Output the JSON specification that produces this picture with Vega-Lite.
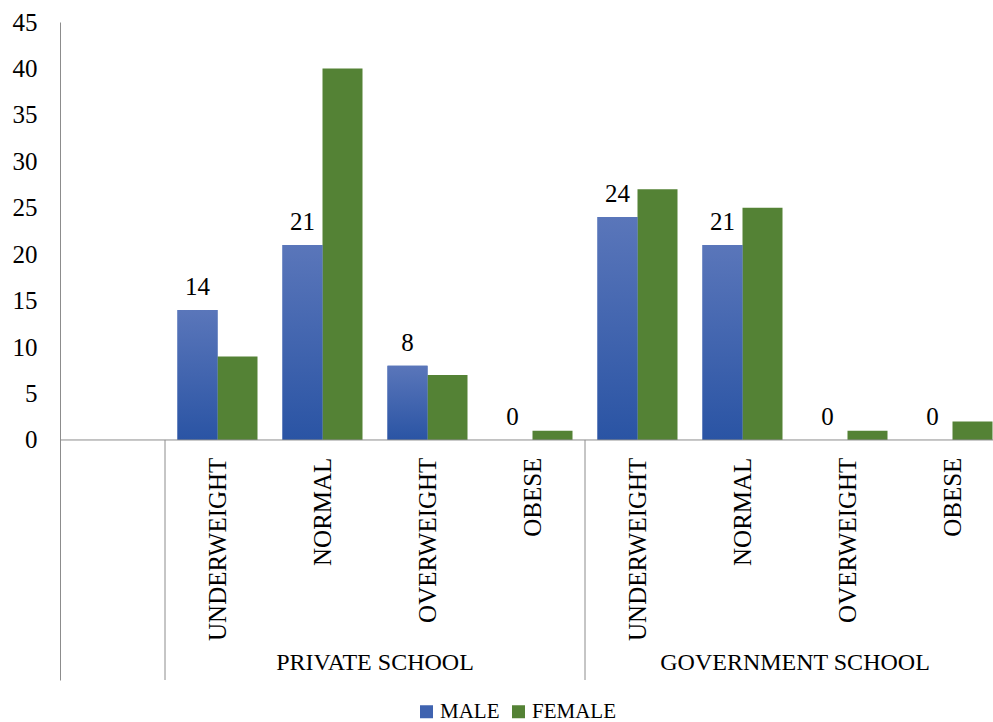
{
  "$schema": "https://vega.github.io/schema/vega-lite/v6.json",
  "width": 933,
  "height": 658,
  "autosize": {"type": "none"},
  "padding": {"left": 60, "top": 22, "right": 0, "bottom": 42},
  "background": "white",
  "config": {
    "view": {"stroke": null},
    "font": "Liberation Serif",
    "text": {"font": "Liberation Serif", "fontSize": 25, "color": "#000000"}
  },
  "datasets": {
    "bars": [
      {"key": "P-UNDERWEIGHT", "school": "PRIVATE SCHOOL", "status": "UNDERWEIGHT", "gender": "MALE", "value": 14},
      {"key": "P-UNDERWEIGHT", "school": "PRIVATE SCHOOL", "status": "UNDERWEIGHT", "gender": "FEMALE", "value": 9},
      {"key": "P-NORMAL", "school": "PRIVATE SCHOOL", "status": "NORMAL", "gender": "MALE", "value": 21},
      {"key": "P-NORMAL", "school": "PRIVATE SCHOOL", "status": "NORMAL", "gender": "FEMALE", "value": 40},
      {"key": "P-OVERWEIGHT", "school": "PRIVATE SCHOOL", "status": "OVERWEIGHT", "gender": "MALE", "value": 8},
      {"key": "P-OVERWEIGHT", "school": "PRIVATE SCHOOL", "status": "OVERWEIGHT", "gender": "FEMALE", "value": 7},
      {"key": "P-OBESE", "school": "PRIVATE SCHOOL", "status": "OBESE", "gender": "MALE", "value": 0},
      {"key": "P-OBESE", "school": "PRIVATE SCHOOL", "status": "OBESE", "gender": "FEMALE", "value": 1},
      {"key": "G-UNDERWEIGHT", "school": "GOVERNMENT SCHOOL", "status": "UNDERWEIGHT", "gender": "MALE", "value": 24},
      {"key": "G-UNDERWEIGHT", "school": "GOVERNMENT SCHOOL", "status": "UNDERWEIGHT", "gender": "FEMALE", "value": 27},
      {"key": "G-NORMAL", "school": "GOVERNMENT SCHOOL", "status": "NORMAL", "gender": "MALE", "value": 21},
      {"key": "G-NORMAL", "school": "GOVERNMENT SCHOOL", "status": "NORMAL", "gender": "FEMALE", "value": 25},
      {"key": "G-OVERWEIGHT", "school": "GOVERNMENT SCHOOL", "status": "OVERWEIGHT", "gender": "MALE", "value": 0},
      {"key": "G-OVERWEIGHT", "school": "GOVERNMENT SCHOOL", "status": "OVERWEIGHT", "gender": "FEMALE", "value": 1},
      {"key": "G-OBESE", "school": "GOVERNMENT SCHOOL", "status": "OBESE", "gender": "MALE", "value": 0},
      {"key": "G-OBESE", "school": "GOVERNMENT SCHOOL", "status": "OBESE", "gender": "FEMALE", "value": 2}
    ],
    "cats": [
      {"key": "blank", "school": "", "status": "", "sep": true, "group": false},
      {"key": "P-UNDERWEIGHT", "school": "PRIVATE SCHOOL", "status": "UNDERWEIGHT", "sep": false, "group": false},
      {"key": "P-NORMAL", "school": "PRIVATE SCHOOL", "status": "NORMAL", "sep": false, "group": true},
      {"key": "P-OVERWEIGHT", "school": "PRIVATE SCHOOL", "status": "OVERWEIGHT", "sep": false, "group": false},
      {"key": "P-OBESE", "school": "PRIVATE SCHOOL", "status": "OBESE", "sep": true, "group": false},
      {"key": "G-UNDERWEIGHT", "school": "GOVERNMENT SCHOOL", "status": "UNDERWEIGHT", "sep": false, "group": false},
      {"key": "G-NORMAL", "school": "GOVERNMENT SCHOOL", "status": "NORMAL", "sep": false, "group": true},
      {"key": "G-OVERWEIGHT", "school": "GOVERNMENT SCHOOL", "status": "OVERWEIGHT", "sep": false, "group": false},
      {"key": "G-OBESE", "school": "GOVERNMENT SCHOOL", "status": "OBESE", "sep": true, "group": false}
    ]
  },
  "layer": [
    {
      "data": {"name": "bars"},
      "mark": {"type": "bar"},
      "encoding": {
        "x": {"field": "key", "type": "nominal", "axis": null,
          "scale": {"domain": ["blank", "P-UNDERWEIGHT", "P-NORMAL", "P-OVERWEIGHT", "P-OBESE", "G-UNDERWEIGHT", "G-NORMAL", "G-OVERWEIGHT", "G-OBESE"],
            "paddingInner": 0, "paddingOuter": 0, "range": [0, 945]}},
        "xOffset": {"field": "gender", "type": "nominal",
          "scale": {"domain": ["MALE", "FEMALE"], "paddingInner": 0, "paddingOuter": 0.3125}},
        "y": {"field": "value", "type": "quantitative",
          "scale": {"domain": [-25.84, 45], "nice": false, "zero": false},
          "axis": {"values": [0, 5, 10, 15, 20, 25, 30, 35, 40, 45], "title": null, "grid": false, "ticks": false,
            "labelFont": "Liberation Serif", "labelFontSize": 25, "labelColor": "#000000", "labelPadding": 23,
            "domainColor": "#8c8c8c", "domainWidth": 1}},
        "color": {"field": "gender", "type": "nominal",
          "scale": {"domain": ["MALE", "FEMALE"], "range": ["#3f63b0", "#548235"]},
          "legend": {"title": null, "orient": "none", "legendX": 356, "legendY": 679, "direction": "horizontal",
            "symbolType": "square", "symbolSize": 169, "symbolStrokeWidth": 0, "labelFont": "Liberation Serif",
            "labelFontSize": 21, "labelColor": "#000000", "labelOffset": 3, "columnPadding": 8}}
      }
    },
    {
      "data": {"name": "bars"},
      "transform": [{"filter": "datum.gender === 'MALE'"}],
      "mark": {"type": "bar", "color": {"gradient": "linear", "x1": 0, "y1": 0, "x2": 0, "y2": 1,
        "stops": [{"offset": 0, "color": "#5a76ba"}, {"offset": 1, "color": "#2a54a4"}]}},
      "encoding": {
        "x": {"field": "key", "type": "nominal"},
        "xOffset": {"field": "gender", "type": "nominal"},
        "y": {"field": "value", "type": "quantitative"}
      }
    },
    {
      "data": {"name": "bars"},
      "transform": [{"filter": "datum.gender === 'MALE'"}],
      "mark": {"type": "text", "baseline": "alphabetic", "dy": -15, "fontSize": 25},
      "encoding": {
        "x": {"field": "key", "type": "nominal"},
        "xOffset": {"field": "gender", "type": "nominal"},
        "y": {"field": "value", "type": "quantitative"},
        "text": {"field": "value", "type": "quantitative"}
      }
    },
    {
      "data": {"values": [{"v": 0}]},
      "mark": {"type": "rule", "color": "#8c8c8c", "strokeWidth": 1},
      "encoding": {"y": {"field": "v", "type": "quantitative"}}
    },
    {
      "data": {"name": "cats"},
      "transform": [{"filter": "datum.sep"}],
      "mark": {"type": "rule", "color": "#8c8c8c", "strokeWidth": 1},
      "encoding": {
        "x": {"field": "key", "type": "nominal", "bandPosition": 1},
        "y": {"datum": 0},
        "y2": {"datum": -25.84}
      }
    },
    {
      "data": {"name": "cats"},
      "transform": [{"filter": "datum.status !== ''"}],
      "mark": {"type": "text", "angle": 270, "align": "right", "baseline": "middle", "fontSize": 25},
      "encoding": {
        "x": {"field": "key", "type": "nominal"},
        "y": {"datum": -1.9},
        "text": {"field": "status"}
      }
    },
    {
      "data": {"name": "cats"},
      "transform": [{"filter": "datum.group"}],
      "mark": {"type": "text", "align": "center", "baseline": "alphabetic", "fontSize": 24},
      "encoding": {
        "x": {"field": "key", "type": "nominal", "bandPosition": 1},
        "y": {"datum": -24.76},
        "text": {"field": "school"}
      }
    }
  ]
}
